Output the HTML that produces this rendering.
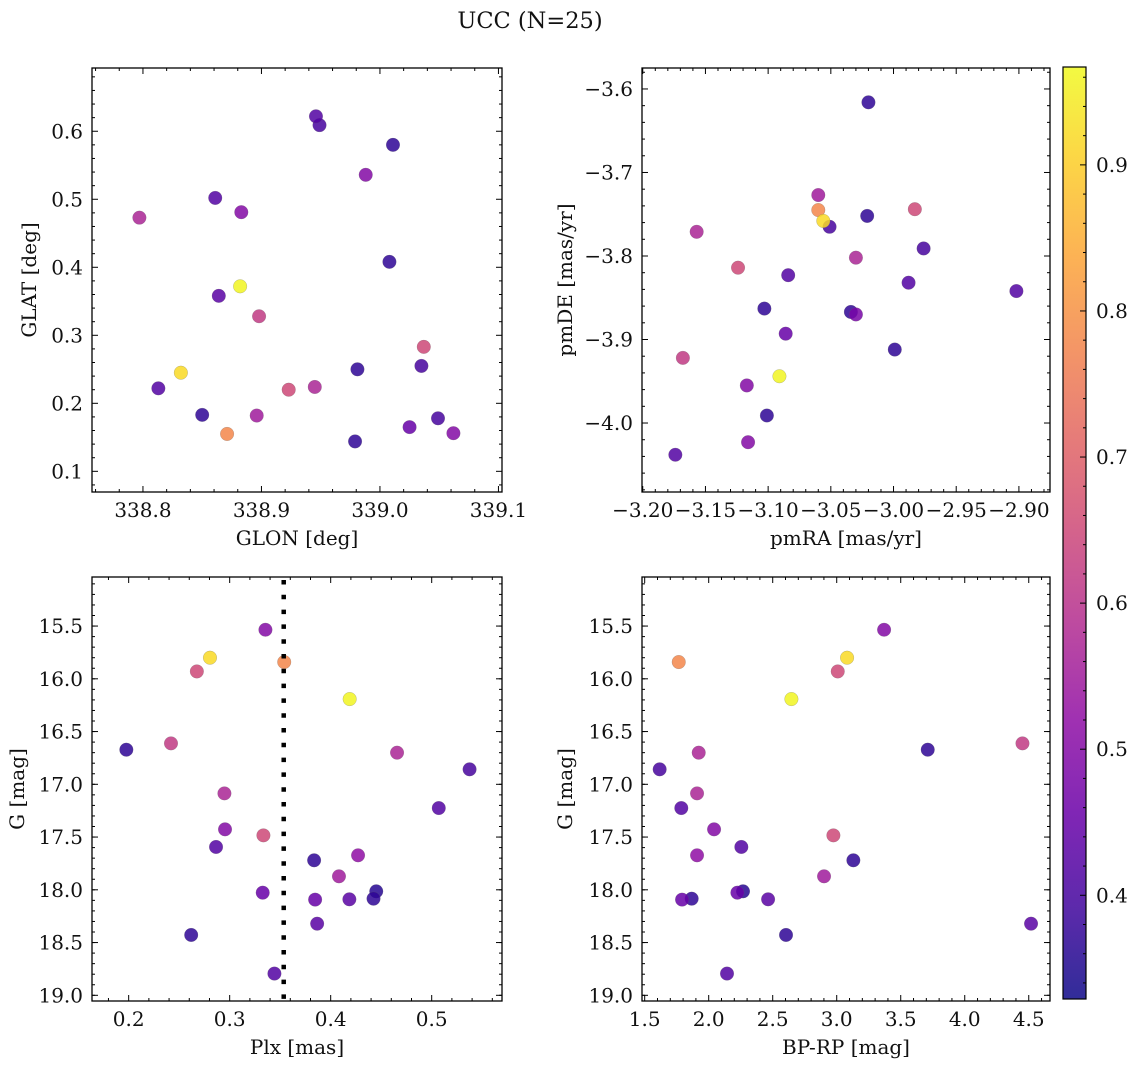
<!DOCTYPE html>
<html><head><meta charset="utf-8"><style>
html,body{margin:0;padding:0;background:#fff;}
svg text{font-family:"DejaVu Serif","Liberation Serif",serif;fill:#111;}
</style></head><body>
<svg id="fig" width="1136" height="1067" viewBox="0 0 1136 1067" xmlns="http://www.w3.org/2000/svg">
<text x="530" y="28" font-size="22.5" text-anchor="middle">UCC (N=25)</text>
</svg>
<script>
// Panel 1: GLON / GLAT
const glon = [338.946,338.949,339.011,338.988,338.861,338.883,338.797,339.008,338.882,338.864,338.898,339.037,339.035,338.981,338.832,338.813,338.923,338.945,338.850,338.896,339.049,339.025,338.871,339.062,338.979];
const glat = [0.622,0.609,0.580,0.536,0.502,0.481,0.473,0.408,0.372,0.358,0.328,0.283,0.255,0.250,0.245,0.222,0.220,0.224,0.183,0.182,0.178,0.165,0.155,0.156,0.144];
const probA = [0.42,0.40,0.37,0.50,0.42,0.50,0.57,0.37,0.96,0.43,0.62,0.65,0.40,0.37,0.92,0.42,0.65,0.57,0.37,0.55,0.40,0.45,0.78,0.50,0.37];
// Panel 2: pmRA / pmDE
const pmra = [-3.020,-3.060,-3.060,-3.056,-3.051,-3.021,-2.983,-2.976,-3.030,-3.157,-3.124,-3.084,-2.988,-2.902,-3.103,-3.034,-3.030,-3.086,-2.999,-3.168,-3.091,-3.117,-3.101,-3.116,-3.174];
const pmde = [-3.616,-3.727,-3.745,-3.758,-3.765,-3.752,-3.744,-3.791,-3.802,-3.771,-3.814,-3.823,-3.832,-3.842,-3.863,-3.867,-3.870,-3.893,-3.912,-3.922,-3.944,-3.955,-3.991,-4.023,-4.038];
const probB = [0.37,0.55,0.78,0.92,0.40,0.37,0.65,0.40,0.57,0.57,0.65,0.42,0.42,0.42,0.37,0.37,0.48,0.45,0.37,0.62,0.96,0.50,0.37,0.50,0.42];
// Panels 3 & 4: Plx, BP-RP vs G
const gmag = [15.535,15.80,15.841,15.93,16.192,16.672,16.612,16.700,16.858,17.086,17.225,17.427,17.484,17.594,17.720,17.673,17.872,18.027,18.014,18.093,18.090,18.084,18.321,18.428,18.794];
const plx = [0.3354,0.2805,0.354,0.2675,0.4188,0.1977,0.2419,0.4657,0.5375,0.2948,0.5070,0.2954,0.3334,0.2865,0.3836,0.4271,0.4082,0.3327,0.4451,0.3846,0.4185,0.4424,0.3866,0.2619,0.3443];
const bprp = [3.370,3.081,1.766,3.008,2.646,3.711,4.451,1.922,1.617,1.909,1.786,2.042,2.974,2.255,3.130,1.909,2.901,2.224,2.268,1.792,2.464,1.867,4.518,2.604,2.143];
const probC = [0.50,0.92,0.78,0.65,0.96,0.37,0.62,0.57,0.40,0.57,0.42,0.50,0.65,0.42,0.37,0.52,0.55,0.45,0.36,0.45,0.43,0.37,0.43,0.37,0.42];
const plxLine = [0.3535];
// tick label arrays
const ticksGlon = [338.8,338.9,339.0,339.1];
const ticksGlat = [0.1,0.2,0.3,0.4,0.5,0.6];
const ticksPmra = [-3.20,-3.15,-3.10,-3.05,-3.00,-2.95,-2.90];
const ticksPmde = [-4.0,-3.9,-3.8,-3.7,-3.6];
const ticksPlx = [0.2,0.3,0.4,0.5];
const ticksG = [15.5,16.0,16.5,17.0,17.5,18.0,18.5,19.0];
const ticksBprp = [1.5,2.0,2.5,3.0,3.5,4.0,4.5];
const ticksCbar = [0.4,0.5,0.6,0.7,0.8,0.9];
const cmin = 0.329, cmax = 0.967;
const FS = 20;

const NS = "http://www.w3.org/2000/svg";
const svg = document.getElementById('fig');
function mk(tag, attrs, parent){
  const e = document.createElementNS(NS, tag);
  for (const k in attrs) e.setAttribute(k, attrs[k]);
  (parent||svg).appendChild(e);
  return e;
}
const stops = [[13,8,135],[65,4,157],[106,0,168],[143,13,164],[177,42,144],[204,71,120],[225,100,98],[242,132,75],[252,166,54],[252,206,37],[240,249,33]];
function plasma(t){
  t = Math.max(0, Math.min(1, t));
  const f = t*10, i = Math.min(9, Math.floor(f)), r = f - i;
  const a = stops[i], b = stops[i+1];
  return `rgb(${Math.round(a[0]+(b[0]-a[0])*r)},${Math.round(a[1]+(b[1]-a[1])*r)},${Math.round(a[2]+(b[2]-a[2])*r)})`;
}
function cnorm(v){ return (v - cmin)/(cmax - cmin); }
function fmt(v, d){ return (v < 0 ? '\u2212' : '') + Math.abs(v).toFixed(d); }

function panel(cfg){
  const {name, x0, x1, y0, y1, xlim, ylim, xticks, yticks, xminor, yminor, xd, yd, xlabel, ylabel, ylabX} = cfg;
  const g = mk('g', {});
  
  
  const sx = v => x0 + (v - xlim[0])/(xlim[1]-xlim[0])*(x1-x0);
  const sy = v => y0 + (ylim[1] - v)/(ylim[1]-ylim[0])*(y1-y0);
  const tg = mk('g', {stroke:'#000','stroke-width':1}, g);
  const eps = 1e-9;
  const xs = Math.ceil(xlim[0]/xminor - eps), xe = Math.floor(xlim[1]/xminor + eps);
  for (let k = xs; k <= xe; k++){
    const v = k*xminor, X = sx(v);
    const major = xticks.some(t => Math.abs(t - v) < xminor/10);
    const L = major ? 6 : 3;
    mk('line', {x1:X, x2:X, y1:y1, y2:y1-L}, tg);
    mk('line', {x1:X, x2:X, y1:y0, y2:y0+L}, tg);
  }
  const ys = Math.ceil(ylim[0]/yminor - eps), ye = Math.floor(ylim[1]/yminor + eps);
  for (let k = ys; k <= ye; k++){
    const v = k*yminor, Y = sy(v);
    const major = yticks.some(t => Math.abs(t - v) < yminor/10);
    const L = major ? 6 : 3;
    mk('line', {x1:x0, x2:x0+L, y1:Y, y2:Y}, tg);
    mk('line', {x1:x1, x2:x1-L, y1:Y, y2:Y}, tg);
  }
  xticks.forEach(v => {
    const t = mk('text', {x:sx(v), y:y1+25, 'font-size':FS, 'text-anchor':'middle'}, g);
    t.textContent = fmt(v, xd);
    
    
  });
  yticks.forEach(v => {
    const t = mk('text', {x:x0-9, y:sy(v)+7, 'font-size':FS, 'text-anchor':'end'}, g);
    t.textContent = fmt(v, yd);
    
    
  });
  const xl = mk('text', {x:(x0+x1)/2, y:y1+53, 'font-size':FS, 'text-anchor':'middle'}, g);
  xl.textContent = xlabel;
  
  
  const ym = (y0+y1)/2;
  const yl = mk('text', {x:ylabX, y:ym, 'font-size':FS, 'text-anchor':'middle', transform:`rotate(-90 ${ylabX} ${ym})`}, g);
  yl.textContent = ylabel;
  
  
  return {g, sx, sy, box(){ const r = mk('rect', {x:x0, y:y0, width:x1-x0, height:y1-y0, fill:'none', stroke:'#000', 'stroke-width':1.3}, g);
    
     }};
}
function scatter(p, xsArr, ysArr, cArr){
  const sg = mk('g', {}, p.g);
  
  
  const idx = xsArr.map((_, i) => i).sort((a, b) => cArr[a] - cArr[b]);
  idx.forEach(i => {
    const c = mk('circle', {cx:p.sx(xsArr[i]), cy:p.sy(ysArr[i]), r:6.8, fill:plasma(cnorm(cArr[i])), 'fill-opacity':0.85, stroke:'#666', 'stroke-width':0.35, 'stroke-opacity':0.6}, sg);
    
    
  });
}

const p1 = panel({name:'panel-glon-glat', x0:92, x1:502, y0:68, y1:492, xlim:[338.757,339.103], ylim:[0.0696,0.693],
  xticks:ticksGlon, yticks:ticksGlat, xminor:0.02, yminor:0.02, xd:1, yd:1, xlabel:'GLON [deg]', ylabel:'GLAT [deg]', ylabX:36});
scatter(p1, glon, glat, probA); p1.box();

const p2 = panel({name:'panel-pmra-pmde', x0:642, x1:1050, y0:68, y1:492, xlim:[-3.2006,-2.8752], ylim:[-4.0826,-3.5749],
  xticks:ticksPmra, yticks:ticksPmde, xminor:0.01, yminor:0.02, xd:2, yd:1, xlabel:'pmRA [mas/yr]', ylabel:'pmDE [mas/yr]', ylabX:572});
scatter(p2, pmra, pmde, probB); p2.box();

const p3 = panel({name:'panel-plx-g', x0:92, x1:502, y0:577, y1:1001, xlim:[0.1637,0.5696], ylim:[-19.054,-15.035],
  xticks:ticksPlx, yticks:[], xminor:0.02, yminor:0.1, xd:1, yd:1, xlabel:'Plx [mas]', ylabel:'G [mag]', ylabX:24});
const p4 = panel({name:'panel-bprp-g', x0:642, x1:1050, y0:577, y1:1001, xlim:[1.479,4.666], ylim:[-19.054,-15.035],
  xticks:ticksBprp, yticks:[], xminor:0.1, yminor:0.1, xd:1, yd:1, xlabel:'BP-RP [mag]', ylabel:'G [mag]', ylabX:572});
[p3, p4].forEach(p => {
  const x0 = p === p3 ? 92 : 642;
  const x1 = p === p3 ? 502 : 1050;
  ticksG.forEach(v => {
    const Y = p.sy(-v);
    mk('line', {x1:x0, x2:x0+6, y1:Y, y2:Y, stroke:'#000'}, p.g);
    mk('line', {x1:x1, x2:x1-6, y1:Y, y2:Y, stroke:'#000'}, p.g);
    const t = mk('text', {x:x0-9, y:Y+7, 'font-size':FS, 'text-anchor':'end'}, p.g);
    t.textContent = v.toFixed(1);
    
    
  });
});
const negG = gmag.map(v => -v);
scatter(p3, plx, negG, probC);
plxLine.forEach(v => {
  const l = mk('line', {x1:p3.sx(v), x2:p3.sx(v), y1:577, y2:1001, stroke:'#000', 'stroke-width':4.5, 'stroke-dasharray':'4.5 10.3', 'stroke-dashoffset':-3}, p3.g);
  
  
});
p3.box();
scatter(p4, bprp, negG, probC); p4.box();

// Colorbar
const cb = mk('g', {});


const defs = mk('defs', {}, cb);
const grad = mk('linearGradient', {id:'cbg', x1:0, y1:1, x2:0, y2:0}, defs);
for (let i = 0; i <= 20; i++){ mk('stop', {offset:i/20, 'stop-color':plasma(i/20)}, grad); }
const cbx = 1063, cbw = 23, cby0 = 67, cby1 = 999;
mk('rect', {x:cbx, y:cby0, width:cbw, height:cby1-cby0, fill:'url(#cbg)', 'fill-opacity':0.85}, cb);
const cy = v => cby1 - (v - cmin)/(cmax - cmin)*(cby1 - cby0);
for (let k = Math.ceil(cmin/0.02); k <= Math.floor(cmax/0.02); k++){
  const v = k*0.02, Y = cy(v);
  const major = ticksCbar.some(t => Math.abs(t - v) < 0.001);
  mk('line', {x1:cbx+cbw, x2:cbx+cbw-(major?6:3), y1:Y, y2:Y, stroke:'#000'}, cb);
}
ticksCbar.forEach(v => {
  const t = mk('text', {x:cbx+cbw+10, y:cy(v)+7, 'font-size':FS}, cb);
  t.textContent = v.toFixed(1);
  
  
});
mk('rect', {x:cbx, y:cby0, width:cbw, height:cby1-cby0, fill:'none', stroke:'#000', 'stroke-width':1.2}, cb);
</script>
</body></html>
